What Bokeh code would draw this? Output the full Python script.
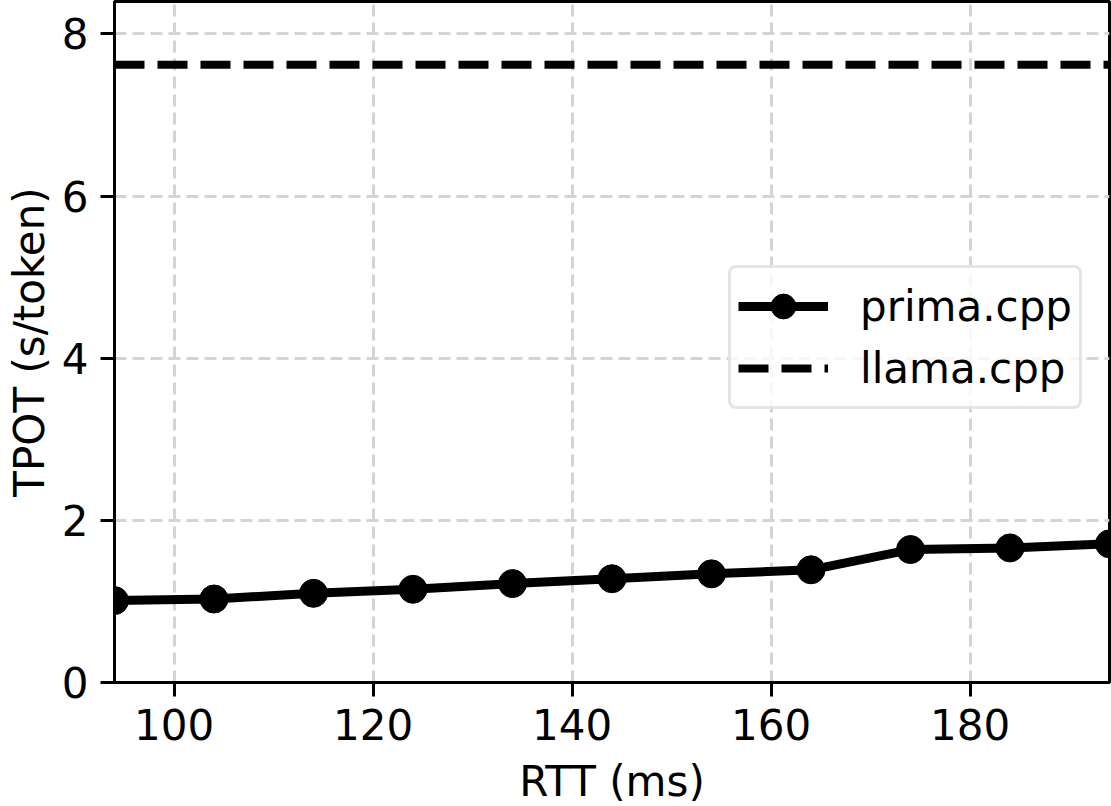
from bokeh.plotting import figure
from bokeh.models import FixedTicker, Legend, LegendItem, Range1d
from bokeh.embed import file_html
from bokeh.resources import INLINE

rtt = [94, 104, 114, 124, 134, 144, 154, 164, 174, 184, 194]
prima_tpot = [1.01, 1.03, 1.10, 1.15, 1.22, 1.28, 1.34, 1.39, 1.64, 1.66, 1.71]
prima_std = [0.04, 0.03, 0.03, 0.03, 0.03, 0.03, 0.03, 0.03, 0.04, 0.03, 0.03]
llama_tpot = 7.62
x_ticks = [100, 120, 140, 160, 180]
y_ticks = [0, 2, 4, 6, 8]

FONT = "DejaVu Sans"

p = figure(frame_width=995, frame_height=681,
           min_border_left=114, min_border_right=2, min_border_top=1, min_border_bottom=124,
           x_range=Range1d(94, 194), y_range=Range1d(0, 8.4),
           output_backend="svg", toolbar_location=None)

p.background_fill_color = "white"
p.border_fill_color = "white"
p.outline_line_color = "black"
p.outline_line_width = 3

for ax in (p.xaxis[0], p.yaxis[0]):
    ax.axis_line_color = "black"
    ax.axis_line_width = 3
    ax.major_tick_line_color = "black"
    ax.major_tick_line_width = 3
    ax.major_tick_out = 14
    ax.major_tick_in = 0
    ax.minor_tick_line_color = None
    ax.major_label_text_font = FONT
    ax.major_label_text_font_size = "42px"
    ax.major_label_text_color = "black"
    ax.axis_label_text_font = FONT
    ax.axis_label_text_font_size = "42px"
    ax.axis_label_text_font_style = "normal"
    ax.axis_label_text_color = "black"

p.xaxis[0].ticker = FixedTicker(ticks=x_ticks)
p.yaxis[0].ticker = FixedTicker(ticks=y_ticks)
p.xaxis[0].axis_label = "RTT (ms)"
p.yaxis[0].axis_label = "TPOT (s/token)"
p.xaxis[0].major_label_standoff = 12
p.yaxis[0].major_label_standoff = 12
p.xaxis[0].axis_label_standoff = 14
p.yaxis[0].axis_label_standoff = 5

for g in (p.xgrid[0], p.ygrid[0]):
    g.grid_line_color = "#d4d4d4"
    g.grid_line_width = 3
    g.grid_line_dash = "12 6"
p.xgrid[0].ticker = FixedTicker(ticks=x_ticks)
p.ygrid[0].ticker = FixedTicker(ticks=y_ticks)

lower = [v - s for v, s in zip(prima_tpot, prima_std)]
upper = [v + s for v, s in zip(prima_tpot, prima_std)]
p.varea(x=rtt, y1=lower, y2=upper, fill_color="gray", fill_alpha=0.4)

pl = p.line(rtt, prima_tpot, line_color="black", line_width=9)
ps = p.scatter(rtt, prima_tpot, size=28, fill_color="black", line_color="black")
ll = p.line([rtt[0], rtt[-1]], [llama_tpot, llama_tpot], line_color="black",
            line_width=8, line_dash="30 13")

legend = Legend(items=[LegendItem(label="prima.cpp", renderers=[pl, ps]),
                       LegendItem(label="llama.cpp", renderers=[ll])],
                location=(614, 273))
legend.label_text_font = FONT
legend.label_text_font_size = "42px"
legend.label_text_color = "black"
legend.glyph_width = 90
legend.glyph_height = 62
legend.label_height = 62
legend.label_standoff = 32
legend.spacing = 0
legend.padding = 7
legend.margin = 0
legend.border_line_color = "#cccccc"
legend.border_line_width = 3
legend.background_fill_color = "white"
legend.background_fill_alpha = 0.8
if "border_radius" in Legend.properties():
    legend.border_radius = 8
p.add_layout(legend, "center")

open("out.html", "w").write(file_html(p, INLINE))
